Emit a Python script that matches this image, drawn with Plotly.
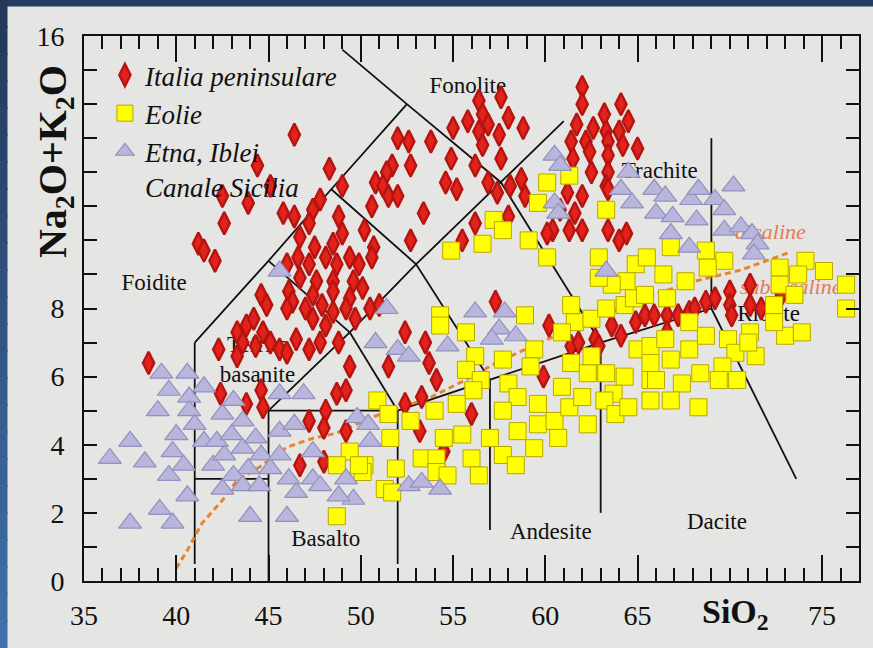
import plotly.graph_objects as go

# ---- Samples: (SiO2 wt%, Na2O+K2O wt%) ----
italia = [
    (46.4, 13.1), (44.4, 12.2), (45.1, 11.6), (48.3, 12.1), (49.0, 11.6), (42.5, 11.3),
    (43.9, 11.1), (42.6, 10.5), (45.8, 10.8), (46.4, 10.7), (47.4, 10.9), (47.8, 11.2),
    (47.2, 10.5), (48.8, 10.7), (50.6, 11.0), (50.8, 11.7), (41.2, 9.9), (41.5, 9.7),
    (42.1, 9.4), (46.7, 10.1), (47.5, 9.8), (48.5, 9.9), (49.0, 10.2), (50.2, 10.3),
    (50.7, 9.8), (46.0, 9.3), (46.6, 9.5), (47.2, 9.3), (48.1, 9.5), (48.7, 9.3),
    (49.4, 9.5), (49.9, 9.3), (50.6, 9.5), (46.7, 8.9), (47.6, 8.8), (48.5, 8.8),
    (49.6, 8.8), (50.1, 8.6), (44.6, 8.4), (46.1, 8.5), (47.4, 8.4), (48.5, 8.5),
    (49.4, 8.3), (38.5, 6.4), (42.3, 6.8), (43.3, 7.3), (43.8, 7.5), (44.2, 7.7),
    (44.7, 7.3), (43.6, 7.0), (44.3, 6.9), (45.1, 7.0), (45.6, 6.8), (46.0, 6.7),
    (46.5, 7.1), (47.2, 6.8), (47.8, 7.0), (48.1, 7.5), (48.8, 7.0), (47.4, 7.7),
    (48.5, 7.9), (46.3, 8.2), (47.0, 8.0), (44.9, 8.1), (46.0, 8.0), (47.9, 8.1),
    (49.2, 8.0), (49.7, 7.7), (50.5, 8.0), (42.4, 5.5), (43.8, 5.2), (44.6, 5.6),
    (44.7, 5.1), (43.3, 6.6), (49.4, 6.3), (48.7, 5.5), (49.2, 5.6), (48.1, 5.0),
    (47.2, 4.7), (48.0, 4.5), (49.2, 4.4), (46.7, 3.4), (48.0, 3.5),
    (56.4, 14.1), (57.6, 14.2), (58.0, 13.6), (55.8, 13.5), (56.6, 13.7), (55.0, 13.3),
    (56.9, 13.4), (56.4, 13.2), (57.5, 13.1), (58.8, 13.3), (56.6, 12.8), (52.0, 13.0),
    (52.6, 12.9), (53.8, 12.9), (54.9, 12.4), (56.2, 12.2), (57.6, 12.4), (51.7, 12.2),
    (52.7, 12.2), (54.6, 11.7), (55.2, 11.5), (56.9, 11.7), (58.1, 11.6), (58.7, 11.8),
    (58.9, 11.3), (51.4, 12.0), (51.2, 11.6), (51.5, 11.3), (52.0, 11.3), (57.4, 11.4),
    (53.4, 10.8), (56.2, 10.5), (58.0, 10.7), (52.7, 10.0), (55.5, 10.0),
    (62.0, 14.5), (62.0, 14.0), (64.1, 14.0), (63.2, 13.7), (64.5, 13.5), (61.7, 13.4),
    (62.6, 13.3), (63.3, 13.2), (64.0, 13.2), (61.4, 12.9), (62.2, 12.9), (63.4, 12.9),
    (64.2, 12.8), (65.0, 12.7), (61.5, 12.4), (62.4, 12.6), (63.4, 12.5), (62.5, 12.0),
    (63.4, 12.0), (63.3, 11.6), (61.2, 11.4), (62.0, 11.3), (63.4, 11.5), (60.8, 10.9),
    (61.6, 10.8), (60.4, 10.3), (61.3, 10.3), (62.0, 10.3), (63.4, 10.3), (64.0, 10.0),
    (64.4, 10.2), (60.1, 10.2),
    (51.0, 8.1), (52.4, 7.3), (53.5, 7.0), (53.7, 6.4), (51.5, 6.3), (54.1, 5.9),
    (53.3, 5.4), (52.4, 5.2), (53.2, 4.4), (56.0, 4.9), (54.5, 3.8), (57.3, 8.2),
    (59.9, 6.0), (60.2, 7.5), (61.4, 6.9), (61.8, 7.0), (62.7, 7.1), (62.9, 6.9),
    (63.6, 7.5), (64.1, 7.2), (64.9, 7.6), (65.4, 7.8), (65.9, 7.8), (66.6, 7.8),
    (66.6, 7.3), (67.2, 7.8), (67.8, 7.9), (68.1, 8.0), (68.7, 8.2), (69.2, 8.3),
    (70.0, 8.5), (70.0, 8.1), (70.1, 7.8), (71.1, 8.7), (71.1, 8.1), (71.7, 8.0),
    (72.8, 8.4),
]

eolie = [
    (54.3, 7.8), (54.3, 7.5), (55.7, 7.3), (58.9, 7.8), (56.2, 6.6), (55.7, 6.2),
    (56.5, 5.9), (56.1, 5.6), (57.7, 6.5), (58.0, 5.8), (58.5, 5.4), (59.4, 6.8),
    (59.2, 6.3), (50.9, 5.3), (51.5, 4.9), (51.6, 4.2), (52.7, 4.7), (54.0, 5.0),
    (55.2, 5.2), (54.5, 4.2), (55.5, 4.3), (57.7, 5.0), (57.0, 4.2), (58.5, 4.4),
    (59.6, 5.2), (59.6, 4.6), (60.5, 4.7), (60.7, 4.2), (59.4, 3.9), (57.7, 3.7),
    (58.4, 3.4), (56.0, 3.6), (56.4, 3.1), (53.3, 3.6), (54.1, 3.6), (54.1, 3.2),
    (54.7, 3.1), (51.9, 3.3), (51.3, 2.7), (51.7, 2.6), (50.2, 3.4), (50.1, 3.2),
    (60.9, 5.7), (61.3, 5.1), (62.3, 4.6), (61.4, 6.4), (62.3, 6.1), (62.0, 5.4),
    (62.5, 6.6), (63.3, 6.1), (63.7, 5.5), (63.2, 5.3), (63.8, 4.9), (64.5, 5.1),
    (64.3, 6.0), (65.0, 6.8), (65.7, 6.4), (65.7, 5.9), (65.7, 5.3), (61.6, 7.6),
    (60.9, 7.3), (62.5, 7.7), (63.3, 8.0), (61.4, 8.1), (64.3, 8.1), (65.7, 6.9),
    (66.5, 7.1), (67.8, 6.8), (68.7, 7.2), (69.9, 7.1), (70.3, 6.7), (71.1, 7.3),
    (71.4, 6.6), (73.0, 7.2), (73.9, 7.3), (66.8, 6.5), (66.0, 5.9), (67.4, 5.8),
    (68.4, 6.1), (69.6, 6.3), (69.4, 5.9), (70.4, 5.9), (66.8, 5.3), (68.3, 5.1),
    (63.3, 10.9), (66.8, 9.8), (68.7, 9.7), (69.7, 9.4), (68.8, 9.2), (64.9, 9.3),
    (65.5, 9.5), (66.4, 9.0), (67.6, 8.8), (64.4, 8.8), (63.6, 8.7), (64.8, 8.3),
    (65.4, 8.4), (66.6, 8.3), (72.7, 9.2), (74.1, 9.4), (75.1, 9.1), (73.7, 9.0),
    (72.7, 8.7), (73.5, 8.4), (72.4, 8.1), (72.4, 7.6), (76.3, 8.7), (76.3, 8.0),
    (71.0, 7.0), (67.8, 7.6), (62.9, 9.5), (62.9, 8.9), (60.1, 11.7), (61.3, 11.9),
    (59.6, 11.1), (57.2, 10.6), (57.7, 10.3), (56.6, 9.9), (59.1, 10.0), (54.9, 9.7),
    (60.1, 9.5), (49.4, 3.8), (48.7, 3.4), (49.9, 3.4), (48.7, 1.9),
]

etna = [
    (39.2, 6.1), (40.6, 6.1), (39.6, 5.6), (40.7, 5.4), (41.5, 5.7), (39.0, 5.0),
    (40.7, 5.0), (41.0, 4.6), (40.0, 4.3), (39.8, 3.8), (40.4, 3.4), (37.5, 4.1),
    (38.3, 3.5), (36.4, 3.6), (39.6, 3.1), (40.6, 2.5), (39.1, 2.1), (39.8, 1.7),
    (37.5, 1.7), (41.5, 4.1), (42.2, 4.1), (42.0, 3.4), (42.6, 3.7), (43.0, 4.3),
    (42.5, 4.9), (43.1, 5.3), (43.6, 4.7), (43.6, 3.9), (44.3, 4.2), (44.6, 3.7),
    (43.9, 3.3), (43.1, 3.1), (42.5, 2.7), (43.6, 2.8), (44.5, 2.8), (44.0, 1.9),
    (45.1, 3.3), (45.6, 4.4), (45.6, 3.7), (45.6, 5.5), (46.9, 5.5), (46.4, 4.6),
    (47.4, 3.8), (46.1, 3.0), (46.5, 2.6), (47.4, 3.0), (47.8, 2.8), (46.0, 1.9),
    (49.2, 3.0), (49.6, 2.4), (48.8, 2.5), (49.8, 4.8), (50.8, 7.0), (51.4, 8.0),
    (52.0, 6.8), (52.6, 6.6), (54.7, 6.9), (56.2, 7.9), (57.5, 7.4), (57.1, 7.1),
    (57.8, 7.9), (58.4, 7.2), (50.4, 4.6), (50.5, 4.1), (52.6, 2.8), (53.3, 2.9),
    (54.3, 2.7), (45.6, 9.1),
    (60.5, 12.5), (60.8, 12.2), (60.5, 11.1), (60.7, 10.8), (64.5, 12.0), (64.1, 11.5),
    (64.7, 11.1), (65.9, 11.5), (66.5, 11.3), (66.0, 10.8), (66.9, 10.7), (66.8, 10.2),
    (67.9, 11.2), (68.3, 11.5), (68.2, 10.6), (69.2, 11.2), (69.7, 10.9), (70.2, 11.6),
    (67.8, 9.8), (69.7, 10.3), (70.6, 10.4), (71.2, 10.2), (71.5, 9.9), (71.3, 9.6),
    (63.3, 9.1),
]

# ---- TAS field boundaries (Le Bas et al.) ----
tas_segments = [
    [(41, 0.5), (41, 7)],
    [(41, 7), (45, 9.4), (48.4, 11.5), (52.5, 14)],
    [(52.5, 14), (49.0, 15.6)],
    [(41, 3), (45, 3)],
    [(45, 0), (45, 5)],
    [(45, 5), (49.4, 7.3), (53, 9.3), (57.6, 11.7), (61, 13.5)],
    [(45, 5), (52, 5)],
    [(52, 0.5), (52, 5)],
    [(52, 5), (57, 5.9), (63, 7), (69, 8)],
    [(57, 1.5), (57, 5.9)],
    [(63, 2), (63, 7)],
    [(69, 8), (73.6, 3.0)],
    [(69, 8), (69, 13)],
    [(49.4, 7.3), (52, 5)],
    [(45, 9.4), (49.4, 7.3)],
    [(48.4, 11.5), (53, 9.3), (57, 5.9)],
    [(52.5, 14), (57.6, 11.7), (63, 7)],
]

# Alkaline / subalkaline divide
alk_curve_sio2 = [40.0, 40.6, 41.4, 42.5, 43.3, 44.5, 46.0, 47.4, 48.7, 50.6,
                  53.7, 55.9, 57.3, 60.0, 62.5, 66.1, 68.3, 70.6, 73.3]
alk_curve_alk = [0.37, 0.9, 1.7, 2.37, 2.96, 3.34, 3.93, 4.19, 4.34, 4.81,
                 5.37, 5.96, 6.4, 7.07, 7.66, 8.45, 8.83, 9.13, 9.66]

field_names = ["Foidite", "Fonolite", "Tefrite<br>basanite", "Basalto",
               "Andesite", "Dacite", "Trachite", "Riolite"]
field_sio2 = [38.8, 55.8, 44.4, 48.1, 60.3, 69.3, 66.2, 72.1]
field_alk = [8.7, 14.5, 6.45, 1.2, 1.4, 1.7, 12.0, 7.8]

series_names = ["alcaline", "subalcaline"]
series_sio2 = [72.2, 73.3]
series_alk = [10.2, 8.6]

# labelled ticks; SiO2 title takes the place of the 70 label
x_label_ticks = [35, 40, 45, 50, 55, 60, 65, 75]
x_title_tick = [70]
y_label_ticks = [0, 2, 4, 6, 8, 16]
y_long_ticks = [5, 10, 15]

SERIF = "Liberation Serif, Times New Roman, serif"
PANEL = "#e5e5e3"
INK = "#111111"

fig = go.Figure()

# boundary lines
bx, by = [], []
for seg in tas_segments:
    for sx, sy in seg:
        bx.append(sx)
        by.append(sy)
    bx.append(None)
    by.append(None)
fig.add_trace(go.Scatter(x=bx, y=by, mode="lines", showlegend=False, hoverinfo="skip",
                         line=dict(color=INK, width=1.8)))

# field names sit underneath the samples
fig.add_trace(go.Scatter(x=field_sio2, y=field_alk, text=field_names, mode="text",
                         showlegend=False, hoverinfo="skip",
                         textfont=dict(family=SERIF, size=23, color=INK)))
fig.add_trace(go.Scatter(x=series_sio2, y=series_alk, text=series_names, mode="text",
                         showlegend=False, hoverinfo="skip",
                         textfont=dict(family=SERIF, size=22, color="#e57a58", style="italic")))

fig.add_trace(go.Scatter(x=alk_curve_sio2, y=alk_curve_alk, mode="lines", showlegend=False,
                         hoverinfo="skip",
                         line=dict(color="#e8842e", width=3, dash="6px,4px")))

it_x, it_y = zip(*italia)
eo_x, eo_y = zip(*eolie)
et_x, et_y = zip(*etna)

fig.add_trace(go.Scatter(
    x=it_x, y=it_y, mode="markers", name="<i>Italia peninsulare</i>",
    marker=dict(symbol="diamond-tall", size=16, color="#e2221d",
                line=dict(color="#b5140f", width=2.4))))
fig.add_trace(go.Scatter(
    x=eo_x, y=eo_y, mode="markers", name="<i>Eolie</i>",
    marker=dict(symbol="square", size=17, color="#ffff00",
                line=dict(color="#b8a600", width=1))))
fig.add_trace(go.Scatter(
    x=et_x, y=et_y, mode="markers", name="<i>Etna, Iblei</i><br><i>Canale Sicilia</i>",
    marker=dict(symbol="triangle-up", size=20, color="#b8b6dc",
                line=dict(color="#9390bd", width=1.2))))

# frame around the panel: navy band on top, shaded strip on the left
shapes = [dict(type="rect", xref="paper", yref="paper", x0=-0.13, x1=1.05,
               y0=(581 - 6.5) / 545, y1=1.09, line=dict(width=0),
               fillcolor="#243c5e", layer="above")]
top_rgb, bot_rgb = (35, 56, 90), (64, 112, 170)
n = 24
for k in range(n):
    t = k / (n - 1)
    c = tuple(round(top_rgb[i] + (bot_rgb[i] - top_rgb[i]) * t) for i in range(3))
    shapes.append(dict(type="rect", xref="paper", yref="paper",
                       x0=-0.13, x1=(7.3 - 84) / 777,
                       y0=(581 - (k + 1) * 27 - 1) / 545, y1=(581 - k * 27 + 1) / 545,
                       line=dict(width=0), fillcolor="rgb(%d,%d,%d)" % c, layer="above"))

annotations = [
    dict(text="<b>Na<sub>2</sub>O+K<sub>2</sub>O</b>", xref="paper", yref="paper",
         x=(55 - 84) / 777, y=(581 - 162) / 545, textangle=-90, showarrow=False,
         font=dict(family=SERIF, size=40, color=INK),
         xanchor="center", yanchor="middle"),
    dict(text="<b>SiO<sub>2</sub></b>", xref="x", yref="paper",
         x=70.3, y=(581 - 614) / 545, showarrow=False,
         font=dict(family=SERIF, size=34, color=INK),
         xanchor="center", yanchor="middle"),
]

tick_font = dict(family=SERIF, size=28, color=INK)
minor_ticks = dict(tickmode="linear", dtick=1, ticks="inside",
                   ticklen=13, tickwidth=1.6, tickcolor=INK)

fig.update_layout(
    width=873, height=648,
    margin=dict(l=84, r=12, t=36, b=67, pad=0),
    paper_bgcolor=PANEL, plot_bgcolor=PANEL,
    shapes=shapes, annotations=annotations,
    showlegend=True,
    legend=dict(x=0.027, y=(581 - 51) / 545, xanchor="left", yanchor="top",
                bgcolor="rgba(0,0,0,0)", itemsizing="trace", valign="top",
                tracegroupgap=0,
                font=dict(family=SERIF, size=27, color=INK)),
    xaxis=dict(range=[35, 77], showgrid=False, zeroline=False,
               showline=True, linecolor=INK, linewidth=2, mirror="ticks",
               ticks="inside", ticklen=26, tickwidth=2, tickcolor=INK,
               tickmode="array", tickvals=x_label_ticks,
               ticklabelstandoff=8, tickfont=tick_font,
               minor=dict(minor_ticks, tick0=35)),
    xaxis2=dict(range=[35, 77], overlaying="x", side="bottom", anchor="y",
                showgrid=False, zeroline=False, showline=True, linecolor=INK,
                linewidth=2, mirror="ticks", ticks="inside", ticklen=26, tickwidth=2,
                tickcolor=INK, tickmode="array", tickvals=x_title_tick,
                showticklabels=False),
    yaxis=dict(range=[0, 16], showgrid=False, zeroline=False,
               showline=True, linecolor=INK, linewidth=2, mirror="ticks",
               ticks="inside", ticklen=13, tickwidth=1.6, tickcolor=INK,
               tickmode="array", tickvals=y_label_ticks,
               ticklabelstandoff=12, tickfont=tick_font,
               minor=dict(minor_ticks, tick0=0)),
    yaxis2=dict(range=[0, 16], overlaying="y", side="left", anchor="x",
                showgrid=False, zeroline=False, showline=True, linecolor=INK,
                linewidth=2, mirror="ticks", ticks="inside", ticklen=26, tickwidth=2,
                tickcolor=INK, tickmode="array", tickvals=y_long_ticks,
                showticklabels=False),
)

fig.write_html("out.html")
